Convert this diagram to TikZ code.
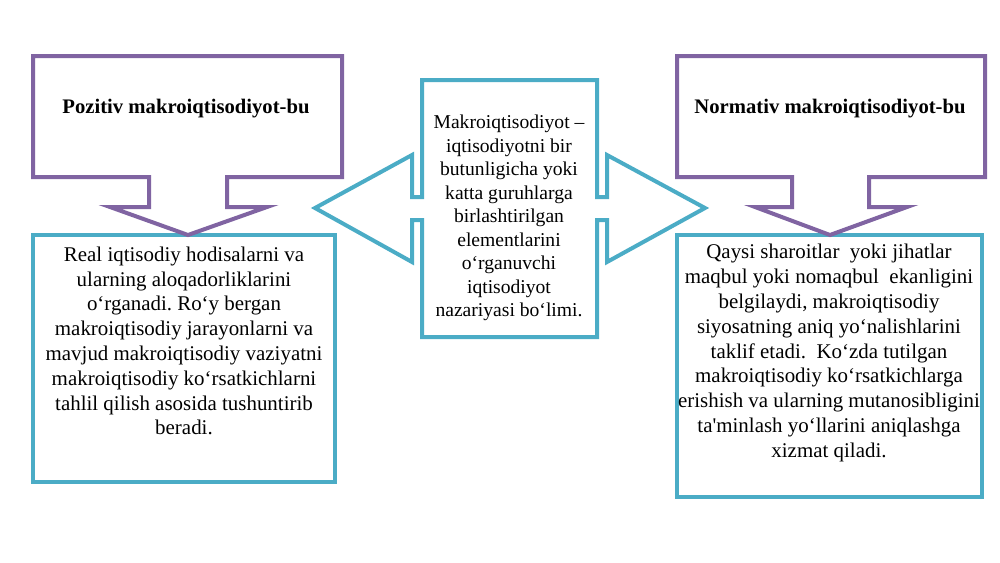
\documentclass[tikz,border=0pt]{standalone}
\usepackage{fontspec}
\IfFontExistsTF{LiberationSerif-Regular.ttf}{%
  \setmainfont{LiberationSerif}[Extension=.ttf,UprightFont=*-Regular,BoldFont=*-Bold,ItalicFont=*-Italic,BoldItalicFont=*-BoldItalic]}{%
  \setmainfont{Liberation Serif}}
\frenchspacing
\definecolor{callpurple}{HTML}{8064A2}
\definecolor{callteal}{HTML}{4BACC6}
\tikzset{
  purpleshape/.style={draw=callpurple, line width=3pt, fill=white, line join=miter},
  tealshape/.style={draw=callteal, line width=3pt, fill=white, line join=miter},
  bodytext/.style={align=center, font=\fontsize{15.7}{18.6}\selectfont, inner sep=0pt},
  centertext/.style={align=center, font=\fontsize{14.7}{17.6}\selectfont, inner sep=0pt},
  titletext/.style={font=\fontsize{15.5}{18}\selectfont\bfseries, inner sep=0pt},
}
\begin{document}
\begin{tikzpicture}[x=0.75pt,y=-0.75pt]
\useasboundingbox (0,0) rectangle (1000,562);
% bottom boxes
\draw[tealshape] (33,235) rectangle (335,482);
\draw[tealshape] (677,235) rectangle (982,497);
% left callout
\draw[purpleshape] (33,56) -- (342,56) -- (342,177) -- (227,177) -- (227,207) -- (267,207) -- (188,235) -- (110,207) -- (149,207) -- (149,177) -- (33,177) -- cycle;
% right callout
\draw[purpleshape] (677,56) -- (985,56) -- (985,177) -- (869,177) -- (869,207) -- (907,207) -- (830,235) -- (755,207) -- (792,207) -- (792,177) -- (677,177) -- cycle;
% center double arrow
\draw[tealshape] (422,80) -- (597,80) -- (597,197) -- (607,197) -- (607,155) -- (705,208) -- (607,262) -- (607,220) -- (597,220) -- (597,337) -- (422,337) -- (422,220) -- (412,220) -- (412,262) -- (315,208) -- (412,155) -- (412,197) -- (422,197) -- cycle;
% texts
\node[titletext] (lt) at (186,109) {Pozitiv makroiqtisodiyot-bu};
\node[titletext] (rt) at (830,109) {Normativ makroiqtisodiyot-bu};
\node[bodytext] (lb) at (184,341) {Real iqtisodiy hodisalarni va\\ularning aloqadorliklarini\\o‘rganadi. Ro‘y bergan\\makroiqtisodiy jarayonlarni va\\mavjud makroiqtisodiy vaziyatni\\makroiqtisodiy ko‘rsatkichlarni\\tahlil qilish asosida tushuntirib\\beradi.};
\node[centertext] (c) at (509,218) {Makroiqtisodiyot –\\iqtisodiyotni bir\\butunligicha yoki\\katta guruhlarga\\birlashtirilgan\\elementlarini\\o‘rganuvchi\\iqtisodiyot\\nazariyasi bo‘limi.};
\node[bodytext] (rb) at (829,353) {Qaysi sharoitlar\ \ yoki jihatlar\\maqbul yoki nomaqbul\ \ ekanligini\\belgilaydi, makroiqtisodiy\\siyosatning aniq yo‘nalishlarini\\taklif etadi.\ \ Ko‘zda tutilgan\\makroiqtisodiy ko‘rsatkichlarga\\erishish va ularning mutanosibligini\\ta\textquotesingle minlash yo‘llarini aniqlashga\\xizmat qiladi.};
\end{tikzpicture}
\end{document}
